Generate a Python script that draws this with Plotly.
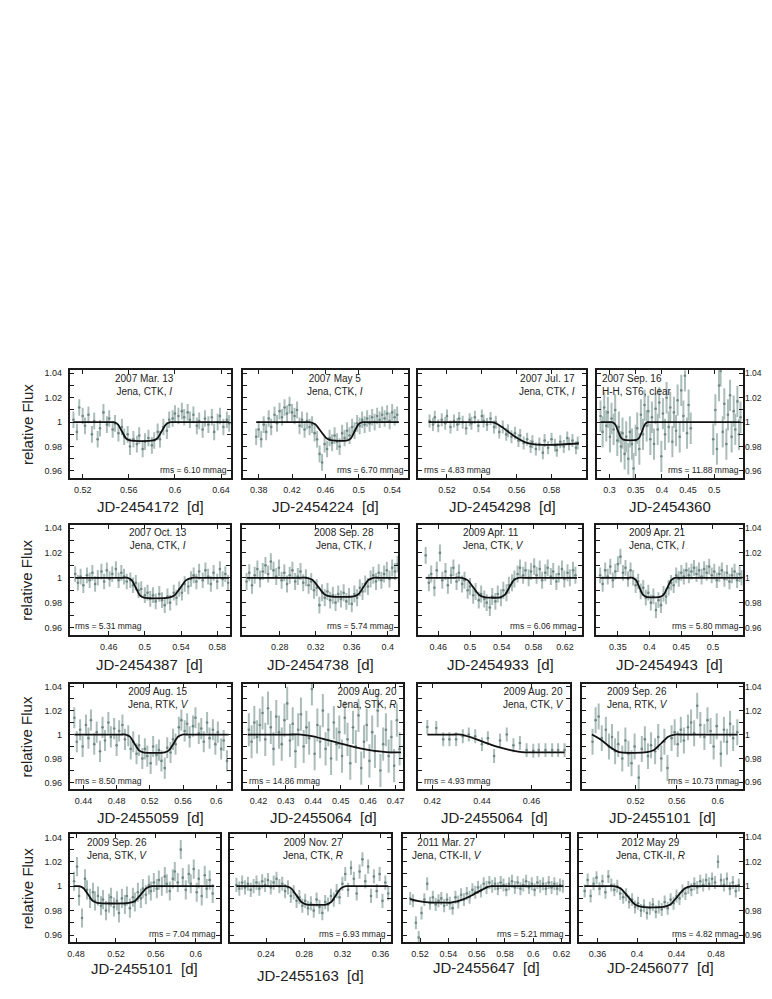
import plotly.graph_objects as go

# light curves: time [d] and flux deviation from 1 in parts per thousand
p1_time = [0.512, 0.515, 0.517, 0.520, 0.522, 0.525, 0.528, 0.530, 0.533, 0.535, 0.538, 0.541, 0.543, 0.546, 0.548, 0.551, 0.554, 0.556, 0.559, 0.561, 0.564, 0.567, 0.569, 0.572, 0.574, 0.577, 0.580, 0.582, 0.585, 0.587, 0.590, 0.593, 0.595, 0.598, 0.600, 0.603, 0.606, 0.608, 0.611, 0.613, 0.616, 0.619, 0.621, 0.624, 0.626, 0.629, 0.632, 0.634, 0.637, 0.639, 0.642, 0.645, 0.647]
p1_flux = [2, -8, 12, 5, -3, 6, -10, 1, -14, -5, 8, -2, 3, -6, -1, -9, -4, -12, -10, -20, -14, -18, -11, -22, -16, -13, -19, -15, -8, -14, -4, -7, 2, 3, 7, 5, 9, 4, 8, 2, 6, -3, 1, -6, 3, -2, 4, -8, 0, 5, -4, 2, -1]
p1_err = 6
p1_model_t = [0.512, 0.543, 0.547, 0.5505, 0.554, 0.5575, 0.561, 0.581, 0.5848, 0.5885, 0.5922, 0.596, 0.6005, 0.647]
p1_model_f = [0, 0, 0, -1.8, -7.5, -13.2, -15, -15, -13.2, -7.5, -1.8, 0, 0, 0]

p2_time = [0.377, 0.380, 0.383, 0.386, 0.389, 0.392, 0.395, 0.399, 0.402, 0.405, 0.408, 0.411, 0.414, 0.417, 0.420, 0.423, 0.426, 0.429, 0.432, 0.435, 0.438, 0.441, 0.444, 0.447, 0.450, 0.453, 0.456, 0.459, 0.462, 0.465, 0.468, 0.471, 0.474, 0.477, 0.480, 0.483, 0.486, 0.489, 0.492, 0.495, 0.498, 0.501, 0.504, 0.507, 0.510, 0.513, 0.516, 0.519, 0.522, 0.525, 0.528, 0.531, 0.534, 0.537, 0.540, 0.543, 0.546]
p2_flux = [-12, -6, -14, -2, -8, 3, -4, 6, -1, 9, 4, 12, 7, 14, 8, 5, 10, -3, 2, -6, 1, -4, -2, -9, -14, -26, -33, -18, -22, -13, -17, -11, -16, -20, -9, -13, -7, -11, -4, -7, -1, -3, 2, -2, 3, -1, 4, 0, 5, 2, 6, 3, 7, 1, 8, 4, 6]
p2_err = 6
p2_model_t = [0.377, 0.433, 0.441, 0.4478, 0.4545, 0.4613, 0.468, 0.486, 0.4905, 0.495, 0.4995, 0.504, 0.5095, 0.548]
p2_model_f = [0, 0, 0, -1.8, -7.5, -13.2, -15, -15, -13.2, -7.5, -1.8, 0, 0, 0]

p3_time = [0.510, 0.512, 0.513, 0.515, 0.517, 0.519, 0.520, 0.522, 0.524, 0.526, 0.527, 0.529, 0.531, 0.533, 0.534, 0.536, 0.538, 0.540, 0.541, 0.543, 0.545, 0.547, 0.548, 0.550, 0.552, 0.554, 0.555, 0.557, 0.559, 0.561, 0.562, 0.564, 0.566, 0.568, 0.569, 0.571, 0.573, 0.575, 0.576, 0.578, 0.580, 0.582, 0.583, 0.585, 0.587, 0.589, 0.590, 0.592, 0.594, 0.595]
p3_flux = [1, -2, 4, -3, 2, -1, 5, -4, 1, -2, 3, 0, -5, 2, -1, 4, -3, 5, 1, -2, 3, -4, 0, -8, -4, -10, -7, -12, -9, -15, -11, -17, -14, -20, -16, -22, -18, -25, -15, -21, -14, -19, -23, -16, -20, -13, -18, -15, -21, -17]
p3_err = 4.5
p3_model_t = [0.5095, 0.541, 0.5457, 0.5485, 0.552, 0.556, 0.560, 0.565, 0.5705, 0.580, 0.5956]
p3_model_f = [0, 0, 0, -1.3, -4.5, -8.8, -12.8, -16.5, -18.3, -18.6, -17.5]

p4_time = [0.283, 0.287, 0.290, 0.294, 0.297, 0.301, 0.304, 0.308, 0.311, 0.315, 0.318, 0.322, 0.325, 0.329, 0.332, 0.336, 0.339, 0.343, 0.346, 0.350, 0.353, 0.357, 0.360, 0.364, 0.367, 0.371, 0.374, 0.378, 0.381, 0.385, 0.388, 0.392, 0.395, 0.399, 0.402, 0.406, 0.409, 0.413, 0.416, 0.420, 0.423, 0.427, 0.430, 0.434, 0.437, 0.441, 0.444, 0.448, 0.451, 0.455, 0.498, 0.502, 0.505, 0.509, 0.512, 0.516, 0.519, 0.523, 0.526, 0.530, 0.533, 0.537, 0.540, 0.544, 0.547, 0.550]
p4_flux = [5, -8, 12, -3, 8, -12, 3, -6, 10, -15, -4, -20, -9, -26, -12, -30, -8, -18, -38, -15, -5, -22, 6, -10, 14, -3, 9, -14, 4, -18, 11, -6, 16, -28, 7, -10, 20, -4, 12, -16, 8, -7, 18, -12, 26, 5, 38, -9, 14, -5, -14, 10, -22, 30, 42, -8, 15, -18, 6, 22, -12, 9, -6, 17, -10, 4]
p4_err = 12
p4_model_t = [0.283, 0.298, 0.305, 0.3108, 0.3165, 0.3223, 0.328, 0.3515, 0.3569, 0.3623, 0.3676, 0.373, 0.3795, 0.550]
p4_model_f = [0, 0, 0, -1.7, -7.3, -12.8, -14.5, -14.5, -12.8, -7.3, -1.7, 0, 0, 0]

p5_time = [0.423, 0.426, 0.429, 0.432, 0.436, 0.439, 0.442, 0.445, 0.448, 0.452, 0.455, 0.458, 0.461, 0.464, 0.468, 0.471, 0.474, 0.477, 0.480, 0.484, 0.487, 0.490, 0.493, 0.496, 0.500, 0.503, 0.506, 0.509, 0.512, 0.516, 0.519, 0.522, 0.525, 0.528, 0.532, 0.535, 0.538, 0.541, 0.544, 0.548, 0.551, 0.554, 0.557, 0.560, 0.564, 0.567, 0.570, 0.573, 0.576, 0.580, 0.583, 0.586, 0.589, 0.592]
p5_flux = [3, -4, 1, -6, 2, -2, 4, -5, 0, 5, -3, 6, -1, 3, 7, -2, 4, 1, -3, -2, -6, -4, -10, -9, -14, -12, -17, -14, -19, -13, -18, -22, -15, -20, -12, -16, -9, -12, -5, -7, -1, 2, -3, 5, -2, 6, 1, -5, 4, -3, 7, -1, 3, -4]
p5_err = 5.5
p5_model_t = [0.423, 0.4755, 0.481, 0.4855, 0.490, 0.4945, 0.499, 0.5265, 0.5329, 0.5393, 0.5456, 0.552, 0.5597, 0.593]
p5_model_f = [0, 0, 0, -1.9, -8, -14.1, -16, -16, -14.1, -8, -1.9, 0, 0, 0]

p6_time = [0.243, 0.246, 0.249, 0.252, 0.255, 0.258, 0.261, 0.264, 0.267, 0.270, 0.273, 0.276, 0.279, 0.282, 0.285, 0.288, 0.291, 0.294, 0.297, 0.300, 0.303, 0.306, 0.309, 0.312, 0.315, 0.318, 0.321, 0.324, 0.327, 0.330, 0.333, 0.336, 0.339, 0.342, 0.345, 0.348, 0.351, 0.354, 0.357, 0.360, 0.363, 0.366, 0.369, 0.372, 0.375, 0.378, 0.381, 0.384, 0.387, 0.390, 0.393, 0.396, 0.399, 0.402, 0.405, 0.408, 0.411]
p6_flux = [-3, 4, -6, 2, 7, -1, 5, 10, 3, 13, 6, 1, 8, -2, 4, -5, 2, 6, -3, 1, 5, -4, 0, -6, -3, -10, -8, -22, -12, -16, -11, -18, -14, -20, -13, -17, -12, -19, -15, -21, -13, -16, -8, -11, -5, -7, -1, 2, -3, 4, -2, 3, 6, -1, 8, 5, 11]
p6_err = 6
p6_model_t = [0.243, 0.302, 0.310, 0.3165, 0.323, 0.3295, 0.336, 0.362, 0.3675, 0.373, 0.3785, 0.384, 0.3905, 0.411]
p6_model_f = [0, 0, 0, -1.8, -7.5, -13.2, -15, -15, -13.2, -7.5, -1.8, 0, 0, 0]

p7_time = [0.444, 0.448, 0.451, 0.455, 0.458, 0.462, 0.465, 0.469, 0.472, 0.476, 0.479, 0.483, 0.486, 0.490, 0.493, 0.497, 0.500, 0.504, 0.507, 0.511, 0.514, 0.518, 0.521, 0.525, 0.528, 0.532, 0.535, 0.539, 0.542, 0.546, 0.549, 0.553, 0.556, 0.560, 0.563, 0.567, 0.570, 0.574, 0.577, 0.581, 0.584, 0.588, 0.591, 0.595, 0.598, 0.602, 0.605, 0.609, 0.612, 0.616, 0.619, 0.623, 0.626, 0.630, 0.633]
p7_flux = [18, -4, 3, -8, 6, 20, -2, 5, -6, 2, 8, -3, 4, -5, -2, -10, -7, -14, -11, -18, -13, -17, -20, -24, -15, -19, -13, -16, -10, -12, -6, -4, -1, 3, 8, 2, 6, 0, 5, 9, 2, 7, -2, 4, 8, 1, 5, -3, 3, 7, -1, 4, 0, 6, 2]
p7_err = 6
p7_model_t = [0.444, 0.4807, 0.4895, 0.4969, 0.5043, 0.5116, 0.519, 0.538, 0.5438, 0.5495, 0.5553, 0.561, 0.5679, 0.635]
p7_model_f = [0, 0, 0, -1.9, -7.85, -13.8, -15.7, -15.7, -13.8, -7.85, -1.9, 0, 0, 0]

p8_time = [0.322, 0.326, 0.330, 0.334, 0.338, 0.342, 0.346, 0.350, 0.354, 0.358, 0.362, 0.366, 0.370, 0.374, 0.378, 0.382, 0.386, 0.390, 0.394, 0.398, 0.402, 0.406, 0.410, 0.414, 0.418, 0.422, 0.426, 0.430, 0.434, 0.438, 0.442, 0.446, 0.450, 0.454, 0.458, 0.462, 0.466, 0.470, 0.474, 0.478, 0.482, 0.486, 0.490, 0.494, 0.498, 0.502, 0.506, 0.510, 0.514, 0.518, 0.522, 0.526, 0.530, 0.534, 0.538, 0.542, 0.545]
p8_flux = [2, -5, 6, 1, 9, -2, 5, 11, 17, 4, 8, -1, 6, 0, -6, -3, -11, -8, -16, -12, -20, -15, -26, -18, -22, -13, -15, -8, -4, -6, 2, -1, 4, 1, 6, 2, 5, 8, 3, 6, 1, 7, 4, 9, 2, 5, -2, 3, 6, -1, 4, -3, 2, 5, -2, 3, 0]
p8_err = 5.5
p8_model_t = [0.322, 0.3664, 0.373, 0.3785, 0.384, 0.3895, 0.395, 0.4164, 0.4223, 0.4282, 0.4341, 0.440, 0.4471, 0.545]
p8_model_f = [0, 0, 0, -1.85, -7.7, -13.55, -15.4, -15.4, -13.55, -7.7, -1.85, 0, 0, 0]

p9_time = [0.429, 0.432, 0.436, 0.439, 0.443, 0.446, 0.449, 0.453, 0.456, 0.460, 0.463, 0.466, 0.470, 0.473, 0.477, 0.480, 0.483, 0.487, 0.490, 0.494, 0.497, 0.500, 0.504, 0.507, 0.511, 0.514, 0.517, 0.521, 0.524, 0.528, 0.531, 0.534, 0.538, 0.541, 0.545, 0.548, 0.551, 0.555, 0.558, 0.562, 0.565, 0.568, 0.572, 0.575, 0.579, 0.582, 0.585, 0.589, 0.592, 0.596, 0.599, 0.602, 0.606, 0.609, 0.613]
p9_flux = [14, -6, 4, -10, 8, -3, 12, -8, 2, -14, 6, -5, 10, -2, 5, -9, 3, 8, -4, -1, -12, -6, -16, -9, -20, -12, -18, -24, -10, -17, -13, -22, -28, -11, -15, -4, -8, 6, 12, 3, 9, -2, 7, 14, 1, 5, -6, 10, -3, 4, -8, 2, -12, -5, -22]
p9_err = 8
p9_model_t = [0.429, 0.4844, 0.4908, 0.4961, 0.5014, 0.5067, 0.512, 0.538, 0.5433, 0.5487, 0.554, 0.5593, 0.5657, 0.615]
p9_model_f = [0, 0, 0, -1.8, -7.4, -13, -14.8, -14.8, -13, -7.4, -1.8, 0, 0, 0]

p10_time = [0.4165, 0.4175, 0.4185, 0.4195, 0.4205, 0.4215, 0.4225, 0.4235, 0.4245, 0.4255, 0.4265, 0.4275, 0.4285, 0.4295, 0.4305, 0.4315, 0.4325, 0.4335, 0.4345, 0.4355, 0.4365, 0.4375, 0.4385, 0.4395, 0.4405, 0.4415, 0.4425, 0.4435, 0.4445, 0.4455, 0.4465, 0.4475, 0.4485, 0.4495, 0.4505, 0.4515, 0.4525, 0.4535, 0.4545, 0.4555, 0.4565, 0.4575, 0.4585, 0.4595, 0.4605, 0.4615, 0.4625, 0.4635, 0.4645, 0.4655, 0.4665, 0.4675, 0.4685, 0.4695, 0.4705, 0.4715]
p10_flux = [4, -6, 10, -2, 8, 18, -4, 22, 6, -12, 15, 2, -8, 12, 26, -5, 9, -14, 4, 17, -10, 6, -3, 38, -16, 8, -6, 20, -12, 4, -20, 10, -8, 2, -18, 14, -4, -24, 6, -10, 16, -28, -6, 8, -22, 2, -14, 20, -30, -8, 4, -18, -2, -26, 12, -12]
p10_err = 13
p10_model_t = [0.4161, 0.431, 0.4355, 0.440, 0.445, 0.450, 0.455, 0.460, 0.465, 0.468, 0.472]
p10_model_f = [0, 0, 0, -1.5, -4.5, -7.5, -10.5, -12.8, -14.3, -14.8, -14.8]

p11_time = [0.418, 0.4216, 0.4244, 0.4269, 0.4296, 0.4323, 0.4347, 0.4373, 0.440, 0.4424, 0.4449, 0.4473, 0.450, 0.4527, 0.4553, 0.458, 0.4607, 0.4629, 0.4656, 0.4683, 0.4707, 0.4733]
p11_flux = [6.3, 5.4, -4, -4, -4, -1.5, 0, -1.5, -8, -3, -18, -5, 0, -9, -7, -13, -13.5, -13, -13, -13, -13, -13]
p11_err = 5
p11_model_t = [0.418, 0.428, 0.4314, 0.436, 0.441, 0.446, 0.451, 0.4574, 0.462, 0.4733]
p11_model_f = [0, 0, 0, -2.5, -6.5, -10, -12.7, -14.8, -14.8, -14.8]

p12_time = [0.478, 0.481, 0.484, 0.487, 0.491, 0.494, 0.497, 0.500, 0.503, 0.507, 0.510, 0.513, 0.516, 0.519, 0.523, 0.526, 0.529, 0.532, 0.535, 0.539, 0.542, 0.545, 0.548, 0.551, 0.555, 0.558, 0.561, 0.564, 0.567, 0.571, 0.574, 0.577, 0.580, 0.583, 0.587, 0.590, 0.593, 0.596, 0.599, 0.603, 0.606, 0.609, 0.612, 0.615, 0.619]
p12_flux = [-6, 12, 15, -3, 4, -10, -2, -14, -8, -20, -5, -16, -24, -10, -36, -12, -4, -18, -9, -14, -2, -20, -6, -28, -3, 2, -8, 4, -5, 6, 10, 1, 24, 8, -2, 12, 3, -10, 7, -16, 4, -6, 9, -3, 2]
p12_err = 10
p12_model_t = [0.4774, 0.4864, 0.496, 0.504, 0.5311, 0.5379, 0.545, 0.5517, 0.5583, 0.5649, 0.6192]
p12_model_f = [0, -4.5, -11, -14.7, -14.7, -12.9, -7.3, -1.8, 0, 0, 0]

p13_time = [0.478, 0.481, 0.483, 0.486, 0.489, 0.491, 0.494, 0.497, 0.499, 0.502, 0.505, 0.507, 0.510, 0.513, 0.515, 0.518, 0.521, 0.523, 0.526, 0.529, 0.531, 0.534, 0.537, 0.539, 0.542, 0.545, 0.547, 0.550, 0.553, 0.555, 0.558, 0.561, 0.563, 0.566, 0.569, 0.571, 0.574, 0.577, 0.579, 0.582, 0.585, 0.587, 0.590, 0.593, 0.595, 0.598, 0.601, 0.603, 0.606, 0.609, 0.611, 0.614, 0.617]
p13_flux = [4, 16, -8, -26, 6, -3, -10, -5, -12, -8, -16, -11, -20, -14, -9, -17, -12, -22, -10, -15, -8, -18, -9, -13, -5, -10, -2, -7, 1, -4, 3, -2, 5, 0, 8, 2, -4, 6, 12, 3, 30, 7, -3, 10, 2, 14, -5, 6, -8, 9, -2, 5, -6]
p13_err = 7
p13_model_t = [0.4776, 0.4805, 0.4829, 0.4875, 0.4921, 0.4967, 0.5013, 0.5332, 0.539, 0.5448, 0.5505, 0.5563, 0.5632, 0.6185]
p13_model_f = [0, 0, 0, -1.65, -6.85, -12.05, -13.7, -13.7, -12.05, -6.85, -1.65, 0, 0, 0]

p14_time = [0.209, 0.212, 0.215, 0.218, 0.221, 0.224, 0.227, 0.230, 0.233, 0.236, 0.239, 0.242, 0.245, 0.248, 0.251, 0.254, 0.257, 0.260, 0.263, 0.266, 0.269, 0.272, 0.275, 0.278, 0.281, 0.284, 0.287, 0.290, 0.293, 0.296, 0.299, 0.302, 0.305, 0.308, 0.311, 0.314, 0.317, 0.320, 0.323, 0.326, 0.329, 0.332, 0.335, 0.338, 0.341, 0.344, 0.347, 0.350, 0.353, 0.356, 0.359, 0.362, 0.365, 0.368]
p14_flux = [1, -2, 3, -1, 2, -3, 0, 3, -2, 4, 1, 5, -1, 3, 6, 0, 2, -4, -1, -8, -5, -12, -9, -16, -12, -18, -14, -20, -11, -17, -22, -13, -15, -8, -11, -4, -9, 2, 10, -3, 15, 6, -6, 12, 22, 4, 16, -8, 8, -4, 10, -12, 3, -6]
p14_err = 5
p14_model_t = [0.209, 0.2543, 0.2609, 0.2664, 0.2719, 0.2774, 0.2829, 0.3027, 0.3079, 0.3131, 0.3184, 0.3236, 0.3299, 0.368]
p14_model_f = [0, 0, 0, -1.8, -7.5, -13.2, -15, -15, -13.2, -7.5, -1.8, 0, 0, 0]

p15_time = [0.513, 0.515, 0.517, 0.519, 0.521, 0.523, 0.525, 0.527, 0.529, 0.531, 0.533, 0.535, 0.537, 0.539, 0.541, 0.543, 0.545, 0.547, 0.549, 0.551, 0.553, 0.555, 0.557, 0.559, 0.561, 0.563, 0.565, 0.567, 0.569, 0.571, 0.573, 0.575, 0.577, 0.579, 0.581, 0.583, 0.585, 0.587, 0.589, 0.591, 0.593, 0.595, 0.597, 0.599, 0.601, 0.603, 0.605, 0.607, 0.609, 0.611, 0.613, 0.615, 0.617, 0.619, 0.621]
p15_flux = [-10, -12, -30, -42, -22, -11, 2, -14, -9, -15, -12, -10, -16, -11, -14, -18, -9, -13, -7, -11, -6, -9, -3, -5, -1, -4, 2, -1, 3, 0, 2, -2, 3, 1, -3, 2, 4, -1, 3, -2, 1, 4, -1, 2, -3, 3, 0, 2, -2, 3, -1, 2, -2, 1, 0]
p15_err = 4.5
p15_model_t = [0.5129, 0.519, 0.526, 0.535, 0.5424, 0.550, 0.557, 0.564, 0.5675, 0.5706, 0.576, 0.621]
p15_model_f = [-10.5, -12.2, -13.2, -13.5, -13.2, -11, -7.2, -2.8, -0.8, 0, 0, 0]

p16_time = [0.347, 0.350, 0.353, 0.356, 0.359, 0.362, 0.365, 0.368, 0.371, 0.374, 0.377, 0.380, 0.383, 0.386, 0.389, 0.392, 0.395, 0.398, 0.401, 0.404, 0.407, 0.410, 0.413, 0.416, 0.419, 0.422, 0.425, 0.428, 0.431, 0.434, 0.437, 0.440, 0.443, 0.446, 0.449, 0.452, 0.455, 0.458, 0.461, 0.464, 0.467, 0.470, 0.473, 0.476, 0.479, 0.482, 0.485, 0.488, 0.491, 0.494, 0.497, 0.500, 0.503]
p16_flux = [-4, 5, -8, 2, 7, -2, 4, -5, 8, 1, -3, 0, -6, -9, -7, -13, -11, -17, -14, -20, -16, -22, -18, -15, -21, -17, -19, -13, -18, -11, -14, -8, -10, -4, -6, -1, -3, 2, -1, 4, 1, 5, 2, 6, 3, 20, 5, 1, 6, -2, 3, -4, 1]
p16_err = 4.5
p16_model_t = [0.3467, 0.3682, 0.3767, 0.3838, 0.3909, 0.3979, 0.405, 0.4267, 0.4338, 0.4409, 0.4479, 0.455, 0.4635, 0.504]
p16_model_f = [0, 0, 0, -2, -8.5, -15, -17, -17, -15, -8.5, -2, 0, 0, 0]

# panel texts
dates = ["2007 Mar. 13", "2007 May 5", "2007 Jul. 17", "2007 Sep. 16",
         "2007 Oct. 13", "2008 Sep. 28", "2009 Apr. 11", "2009 Apr. 21",
         "2009 Aug. 15", "2009 Aug. 20", "2009 Aug. 20", "2009 Sep. 26",
         "2009 Sep. 26", "2009 Nov. 27", "2011 Mar. 27", "2012 May 29"]
sites = ["Jena, CTK, <i>I</i>", "Jena, CTK, <i>I</i>", "Jena, CTK, <i>I</i>", "H-H, ST6, clear",
         "Jena, CTK, <i>I</i>", "Jena, CTK, <i>I</i>", "Jena, CTK, <i>V</i>", "Jena, CTK, <i>I</i>",
         "Jena, RTK, <i>V</i>", "Jena, STK, <i>R</i>", "Jena, CTK, <i>V</i>", "Jena, RTK, <i>V</i>",
         "Jena, STK, <i>V</i>", "Jena, CTK, <i>R</i>", "Jena, CTK-II, <i>V</i>", "Jena, CTK-II, <i>R</i>"]
rms = ["6.10", "6.70", "4.83", "11.88", "5.31", "5.74", "6.06", "5.80",
       "8.50", "14.86", "4.93", "10.73", "7.04", "6.93", "5.21", "4.82"]
jd = ["2454172", "2454224", "2454298", "2454360", "2454387", "2454738", "2454933", "2454943",
      "2455059", "2455064", "2455064", "2455101", "2455101", "2455163", "2455647", "2456077"]
x_ticks = [[0.52, 0.56, 0.6, 0.64], [0.38, 0.42, 0.46, 0.5, 0.54], [0.52, 0.54, 0.56, 0.58], [0.3, 0.35, 0.4, 0.45, 0.5],
           [0.46, 0.5, 0.54, 0.58], [0.28, 0.32, 0.36, 0.4], [0.46, 0.5, 0.54, 0.58, 0.62], [0.35, 0.4, 0.45, 0.5],
           [0.44, 0.48, 0.52, 0.56, 0.6], [0.42, 0.43, 0.44, 0.45, 0.46, 0.47], [0.42, 0.44, 0.46], [0.52, 0.56, 0.6],
           [0.48, 0.52, 0.56, 0.6], [0.24, 0.28, 0.32, 0.36], [0.52, 0.54, 0.56, 0.58, 0.6, 0.62], [0.36, 0.4, 0.44, 0.48]]
y_ticks = [0.96, 0.97, 0.98, 0.99, 1.0, 1.01, 1.02, 1.03, 1.04]
y_ticktext = ["0.96", "", "0.98", "", "1", "", "1.02", "", "1.04"]

series = [
    (p1_time, p1_flux, p1_err, p1_model_t, p1_model_f),
    (p2_time, p2_flux, p2_err, p2_model_t, p2_model_f),
    (p3_time, p3_flux, p3_err, p3_model_t, p3_model_f),
    (p4_time, p4_flux, p4_err, p4_model_t, p4_model_f),
    (p5_time, p5_flux, p5_err, p5_model_t, p5_model_f),
    (p6_time, p6_flux, p6_err, p6_model_t, p6_model_f),
    (p7_time, p7_flux, p7_err, p7_model_t, p7_model_f),
    (p8_time, p8_flux, p8_err, p8_model_t, p8_model_f),
    (p9_time, p9_flux, p9_err, p9_model_t, p9_model_f),
    (p10_time, p10_flux, p10_err, p10_model_t, p10_model_f),
    (p11_time, p11_flux, p11_err, p11_model_t, p11_model_f),
    (p12_time, p12_flux, p12_err, p12_model_t, p12_model_f),
    (p13_time, p13_flux, p13_err, p13_model_t, p13_model_f),
    (p14_time, p14_flux, p14_err, p14_model_t, p14_model_f),
    (p15_time, p15_flux, p15_err, p15_model_t, p15_model_f),
    (p16_time, p16_flux, p16_err, p16_model_t, p16_model_f),
]

# layout in page pixels (the page body adds an 8 px margin)
PAGE_OFF = 8
W, H = 764, 983
rows_px = [(369, 477), (524, 634), (683, 789), (834, 942)]
cols_px = [[(68, 230), (242, 408), (418, 586), (597, 744)],
           [(68, 229), (241, 398), (418, 582), (596, 744)],
           [(68, 230), (242, 403), (418, 570), (582, 744)],
           [(68, 219), (229, 390), (403, 569), (579, 744)]]
x_ranges = [[0.5088, 0.6487], [0.3613, 0.5595], [0.5036, 0.5996], [0.2757, 0.5549],
            [0.417, 0.5943], [0.238, 0.412], [0.4348, 0.641], [0.315, 0.5475],
            [0.4235, 0.618], [0.4144, 0.4729], [0.4144, 0.4754], [0.4675, 0.6247],
            [0.4737, 0.6245], [0.2024, 0.3704], [0.5082, 0.6252], [0.341, 0.5074]]
# label block: (anchor, x in px)
label_pos = [("center", 143), ("center", 334), ("right", 577), ("left", 600),
             ("center", 157), ("center", 343), ("left", 461), ("left", 627),
             ("center", 157), ("right", 399), ("right", 566), ("left", 605),
             ("left", 83), ("center", 312), ("center", 447), ("center", 651)]
rms_side = ["right", "right", "left", "right", "left", "right", "right", "right",
            "left", "left", "left", "right", "right", "right", "right", "right"]
title_drop = [29, 29, 29, 29, 30, 30, 30, 30, 28, 28, 28, 28, 26, 33, 25, 25]

FONT = "Liberation Sans, Arial, sans-serif"
INK = "#1a1a1a"
TXT = "#222222"


def px_x(v):
    return (v - PAGE_OFF) / W


def px_y(v):
    return 1 - (v - PAGE_OFF) / H


fig = go.Figure()
annotations = []

for i, (t, f, err, mt, mf) in enumerate(series):
    r, c = divmod(i, 4)
    top, bottom = rows_px[r]
    left, right = cols_px[r][c]
    n = "" if i == 0 else str(i + 1)

    fig.add_trace(go.Scatter(
        x=t, y=[1 + v / 1000 for v in f], mode="markers",
        marker=dict(color="#6f8784", size=2.6),
        error_y=dict(type="constant", value=err / 1000, color="#abbdb9", thickness=2, width=1),
        xaxis="x" + n, yaxis="y" + n, showlegend=False, hoverinfo="skip"))
    fig.add_trace(go.Scatter(
        x=mt, y=[1 + v / 1000 for v in mf], mode="lines",
        line=dict(color="#111111", width=1.8, shape="spline", smoothing=0.7),
        xaxis="x" + n, yaxis="y" + n, showlegend=False, hoverinfo="skip"))

    ticks = x_ticks[i]
    fig.update_layout(**{
        "xaxis" + n: dict(
            domain=[px_x(left), px_x(right)], range=x_ranges[i], anchor="y" + n,
            tickmode="array", tickvals=ticks, ticktext=[f"{v:g}" for v in ticks],
            ticks="inside", ticklen=4, tickcolor=INK, showline=True, linecolor=INK,
            linewidth=2, mirror="allticks", showgrid=False, zeroline=False,
            tickfont=dict(family=FONT, size=9, color=TXT), ticklabelstandoff=2),
        "yaxis" + n: dict(
            domain=[px_y(bottom), px_y(top)], range=[0.9542, 1.0425], anchor="x" + n,
            tickmode="array", tickvals=y_ticks, ticktext=y_ticktext,
            ticks="inside", ticklen=4, tickcolor=INK, showline=True, linecolor=INK,
            linewidth=2, mirror="allticks", showgrid=False, zeroline=False,
            showticklabels=(c == 0),
            tickfont=dict(family=FONT, size=9, color=TXT), ticklabelstandoff=4),
    })

    # right-hand column carries its flux labels on the right edge
    if c == 3:
        for val, lab in zip(y_ticks, y_ticktext):
            if lab:
                annotations.append(dict(
                    text=lab, x=px_x(right + 1), y=val, xref="paper", yref="y" + n,
                    xanchor="left", yanchor="middle", showarrow=False, borderpad=0,
                    font=dict(family=FONT, size=8.5, color=TXT)))

    anchor, lx = label_pos[i]
    annotations.append(dict(
        text=dates[i] + "<br>" + sites[i], x=px_x(lx), y=px_y(top + 0.5),
        xref="paper", yref="paper", xanchor=anchor, yanchor="top", align=anchor,
        showarrow=False, font=dict(family=FONT, size=10, color=TXT)))
    side = rms_side[i]
    annotations.append(dict(
        text=f"rms = {rms[i]} mmag",
        x=px_x(right - 2.5 if side == "right" else left + 3.5), y=px_y(bottom - 1.5),
        xref="paper", yref="paper", xanchor=side, yanchor="bottom",
        showarrow=False, font=dict(family=FONT, size=8.5, color=TXT)))
    unit = "" if i == 3 else "&nbsp; [d]"
    annotations.append(dict(
        text=f"JD-{jd[i]}{unit}", x=px_x((left + right) / 2), y=px_y(bottom + title_drop[i]),
        xref="paper", yref="paper", xanchor="center", yanchor="middle",
        showarrow=False, font=dict(family=FONT, size=15, color=TXT)))

for top, bottom in rows_px:
    annotations.append(dict(
        text="relative Flux", x=px_x(25), y=px_y((top + bottom) / 2), textangle=-90,
        xref="paper", yref="paper", xanchor="center", yanchor="middle",
        showarrow=False, font=dict(family=FONT, size=15, color=TXT)))

fig.update_layout(
    width=W, height=H, margin=dict(l=0, r=0, t=0, b=0),
    paper_bgcolor="white", plot_bgcolor="white",
    annotations=annotations,
)

fig.write_html("out.html")
